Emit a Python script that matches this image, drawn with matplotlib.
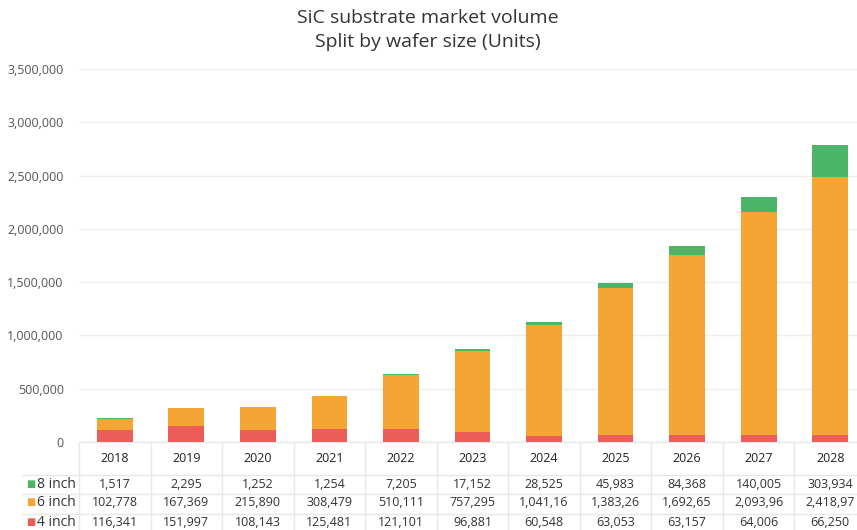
import matplotlib.pyplot as plt
from matplotlib.transforms import blended_transform_factory

plt.rcParams['font.family'] = ['Open Sans', 'DejaVu Sans']

years = ["2018", "2019", "2020", "2021", "2022", "2023", "2024", "2025", "2026", "2027", "2028"]
inch8 = [1517, 2295, 1252, 1254, 7205, 17152, 28525, 45983, 84368, 140005, 303934]
inch6 = [102778, 167369, 215890, 308479, 510111, 757295, 1041160, 1383260, 1692650, 2093960, 2418970]
inch4 = [116341, 151997, 108143, 125481, 121101, 96881, 60548, 63053, 63157, 64006, 66250]

c4, c6, c8 = "#EC5D5A", "#F5A534", "#4CB56A"
W, H = 857, 530

fig = plt.figure(figsize=(W/100, H/100), dpi=100)
# axes placed in pixel terms of the reference
ax = fig.add_axes([79/W, 1-442/H, (866-79)/W, (442-69)/H])

x = range(len(years))
bottom6 = inch4
bottom8 = [a+b for a, b in zip(inch4, inch6)]
ax.bar(x, inch4, width=0.5, color=c4, zorder=3)
ax.bar(x, inch6, width=0.5, bottom=bottom6, color=c6, zorder=3)
ax.bar(x, inch8, width=0.5, bottom=bottom8, color=c8, zorder=3)

ax.set_xlim(-0.5, len(years)-0.5)
ax.set_ylim(0, 3500000)
ax.set_yticks(range(0, 3500001, 500000))
ax.set_yticklabels([f"{v:,}" for v in range(0, 3500001, 500000)])
ax.tick_params(axis='y', length=0, pad=11, labelsize=9, labelcolor="#555555")
ax.set_xticks([])
ax.grid(axis='y', color="#EEEEEE", lw=1, zorder=0)
for s in ax.spines.values():
    s.set_visible(False)

fig.text(428/W, 1-18/H, "SiC substrate market volume", ha='center', va='center',
         fontsize=14, color="#333333")
fig.text(428/W, 1-42/H, "Split by wafer size (Units)", ha='center', va='center',
         fontsize=14, color="#333333")

# data table below the axes
tr = blended_transform_factory(ax.transData, fig.transFigure)
fy = lambda py: 1 - py/H
line_c = "#E8E8E8"
for i in range(len(years)+1):
    ax.plot([i-0.5, i-0.5], [fy(442), fy(530)], color=line_c, lw=1,
            transform=tr, clip_on=False)
ax.plot([-0.5, len(years)-0.5], [fy(442), fy(442)], color=line_c, lw=1,
        transform=tr, clip_on=False)
for py in [475, 494, 514]:
    fig.add_artist(plt.Line2D([22/W, 1], [fy(py), fy(py)], color=line_c, lw=1))

for i, yr in enumerate(years):
    ax.text(i, fy(459), yr, transform=tr, ha='center', va='center',
            fontsize=9, color="#222222")

rows = [("8 inch", c8, inch8, 484), ("6 inch", c6, inch6, 503), ("4 inch", c4, inch4, 522)]
for name, col, vals, py in rows:
    fig.text(26/W, fy(py), "\u25A0", color=col, fontsize=7, ha='left', va='center')
    fig.text(37/W, fy(py), name, color="#333333", fontsize=10, ha='left', va='center')
    for i, v in enumerate(vals):
        ax.text(i, fy(py), f"{v:,}"[:8], transform=tr, ha='center', va='center',
                fontsize=9, color="#333333")

fig.savefig("out.png", dpi=100)
